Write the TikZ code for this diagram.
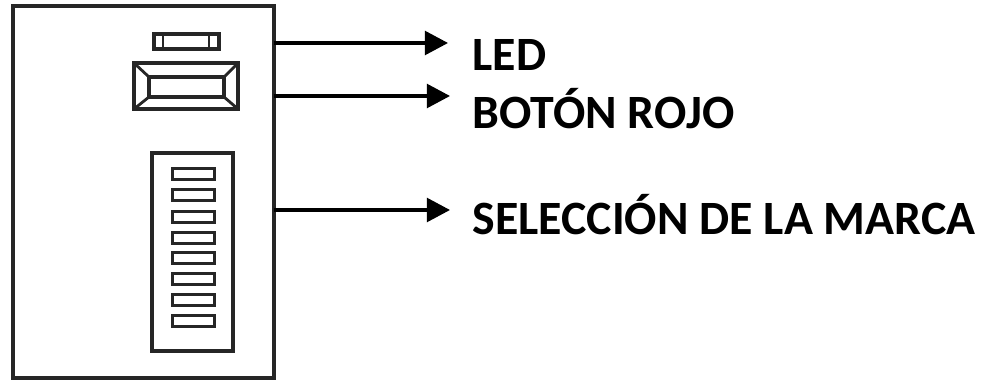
\documentclass[tikz,border=0pt]{standalone}
\usepackage{fontspec}
\setmainfont{Carlito}
\usetikzlibrary{arrows.meta}
\tikzset{
	part/.style={draw=black!85,line width=1pt,minimum width=#1,inner sep=0pt,outer sep=0pt},
	pointer/.style={draw=black,line width=0.9pt,-{Triangle[length=6.6pt,width=6.8pt]}},
	tag/.style={anchor=base west,inner sep=0pt,font=\bfseries\fontsize{13.6}{15}\selectfont}
}
\begin{document}
\begin{tikzpicture}[x=0.01cm,y=-0.01cm]
	\useasboundingbox (0,0) rectangle (981,382);
	\node [part=2.61cm,minimum height=3.72cm] (casing) at (143.5,192) {};
	\node [part=0.65cm,minimum height=0.15cm] (led) at (186.5,41.5) {};
	\draw [line width=0.8pt,black!85] (163,34) -- (163,49) (209,34) -- (209,49);
	\node [part=1.04cm,minimum height=0.46cm] (button) at (186,86) {};
	\node [part=0.75cm,minimum height=0.2cm] (buttoninner) at (186.5,87) {};
	\draw [line width=0.8pt,black!85] (button.north west) -- (buttoninner.north west)
		(button.north east) -- (buttoninner.north east)
		(button.south west) -- (buttoninner.south west)
		(button.south east) -- (buttoninner.south east);
	\node [part=0.81cm,minimum height=1.98cm] (selector) at (192.5,252) {};
	\foreach \n/\y in {1/174,2/195,3/217,4/238,5/258,6/279,7/300,8/321}
		\node [part=0.41cm,minimum height=0.11cm,line width=0.85pt] (slot\n) at (193.5,\y) {};

	\coordinate (ledtip) at (448,43);
	\coordinate (buttontip) at (450,96);
	\coordinate (selectortip) at (450,210);
	\draw [pointer] (casing.east |- ledtip) -- (ledtip);
	\draw [pointer] (casing.east |- buttontip) -- (buttontip);
	\draw [pointer] (casing.east |- selectortip) -- (selectortip);

	\node [tag] (ledtag) at (472,71) {LED};
	\node [tag] (buttontag) at (472,129) {BOTÓN ROJO};
	\node [tag] (selectortag) at (472,235) {SELECCIÓN DE LA MARCA};
\end{tikzpicture}
\end{document}
